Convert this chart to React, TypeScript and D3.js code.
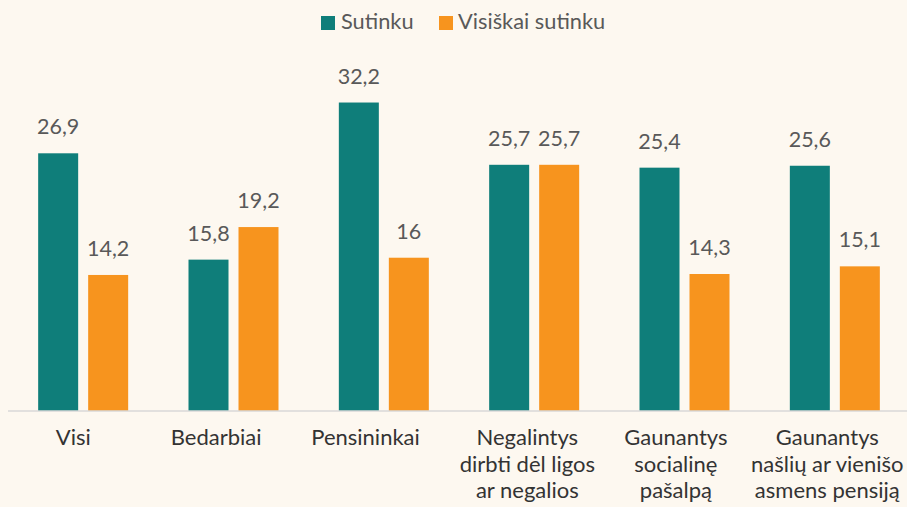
import React from "react";
import * as d3 from "d3";

const categories: string[][] = [
  ["Visi"],
  ["Bedarbiai"],
  ["Pensininkai"],
  ["Negalintys", "dirbti dėl ligos", "ar negalios"],
  ["Gaunantys", "socialinę", "pašalpą"],
  ["Gaunantys", "našlių ar vienišo", "asmens pensiją"],
];
const sutinku = [26.9, 15.8, 32.2, 25.7, 25.4, 25.6];
const visiskaiSutinku = [14.2, 19.2, 16, 25.7, 14.3, 15.1];
const seriesNames = ["Sutinku", "Visiškai sutinku"];
const colors = ["#0f7e7a", "#f7941e"];

// layout tweak: horizontal nudge of category labels (px)
const labelNudge = [-9.8, -17.3, -18.3, -6.8, -8.6, 0];

const W = 907;
const H = 507;
const FONT = "Lato, 'Open Sans', sans-serif";
const LABEL_SIZE = 22;

function measure(text: string, size: number): number {
  if (typeof document === "undefined") return text.length * size * 0.5;
  const c = document.createElement("canvas").getContext("2d");
  if (!c) return text.length * size * 0.5;
  c.font = `${size}px Lato, 'Open Sans', sans-serif`;
  return c.measureText(text).width;
}

export default function App() {
  const x0 = d3
    .scaleBand<number>()
    .domain(d3.range(categories.length))
    .range([8, 910])
    .paddingInner(0)
    .paddingOuter(0);
  const x1 = d3
    .scaleBand<number>()
    .domain([0, 1])
    .range([0, 90])
    .paddingInner(0.2);
  const baseY = 411;
  const y = d3.scaleLinear().domain([0, 10]).range([baseY, baseY - 95.8]);
  const groupOffset = (x0.bandwidth() - 90) / 2;
  const series = [sutinku, visiskaiSutinku];
  const fmt = (v: number) => String(v).replace(".", ",");

  return (
    <svg
      width={W}
      height={H}
      style={{ position: "absolute", left: 0, top: 0, background: "#fdf8f0" }}
      fontFamily={FONT}
    >
      <rect width={W} height={H} fill="#fdf8f0" />
      {/* legend */}
      <g>
        <rect x={321} y={16} width={14} height={14} fill={colors[0]} />
        <text x={341} y={29} fontSize={21.8} fill="#595959">
          {seriesNames[0]}
        </text>
        <rect x={439} y={16} width={14} height={14} fill={colors[1]} />
        <text x={458} y={29} fontSize={21.8} fill="#595959">
          {seriesNames[1]}
        </text>
      </g>
      {categories.map((_, i) =>
        series.map((s, j) => {
          const bx = (x0(i) as number) + groupOffset + (x1(j) as number);
          const v = s[i];
          return (
            <g key={`${i}-${j}`}>
              <rect
                x={bx}
                y={y(v)}
                width={x1.bandwidth()}
                height={baseY - y(v)}
                fill={colors[j]}
              />
              <text
                x={bx + x1.bandwidth() / 2}
                y={y(v) - 19}
                textAnchor="middle"
                fontSize={21.5}
                fill="#595959"
              >
                {fmt(v)}
              </text>
            </g>
          );
        })
      )}
      <line x1={8} x2={W} y1={baseY} y2={baseY} stroke="#d9d9d9" strokeWidth={1.5} />
      {categories.map((lines, i) => {
        const center = (x0(i) as number) + x0.bandwidth() / 2 + labelNudge[i];
        const maxW = Math.max(...lines.map((l) => measure(l, LABEL_SIZE)));
        const cx = Math.min(center, W - 3 - maxW / 2);
        return (
          <text key={i} x={cx} textAnchor="middle" fontSize={LABEL_SIZE} fill="#333333">
            {lines.map((l, k) => (
              <tspan key={k} x={cx} y={445 + k * 26.5}>
                {l}
              </tspan>
            ))}
          </text>
        );
      })}
    </svg>
  );
}
